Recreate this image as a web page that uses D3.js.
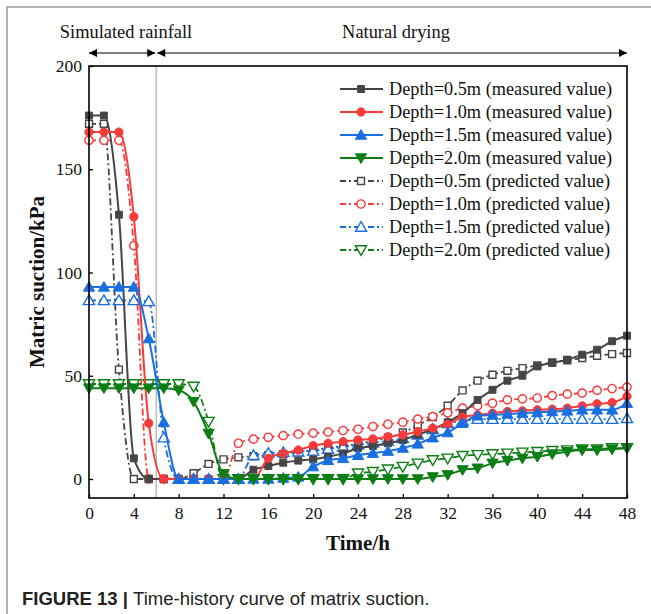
<!DOCTYPE html>
<html>
<head>
<meta charset="utf-8">
<script src="https://cdn.jsdelivr.net/npm/d3@7"></script>
<style>
  body { margin: 0; background: #fff; }
  svg { display: block; }
</style>
</head>
<body>
<div id="chart"></div>
<script>
let width = 651
let height = 614

// time axis (h), one reading every 80 min
let times = [0, 1.33, 2.67, 4, 5.33, 6.67, 8, 9.33, 10.67, 12, 13.33, 14.67, 16, 17.33, 18.67,
  20, 21.33, 22.67, 24, 25.33, 26.67, 28, 29.33, 30.67, 32, 33.33, 34.67, 36, 37.33, 38.67,
  40, 41.33, 42.67, 44, 45.33, 46.67, 48]

let measured05 = [176, 176, 128, 10, 0, 0, 0, 0, 0, 0, 0, 4.5, 6.3, 7.9, 8.9, 9.5, 10.8, 12.4, 14.9,
  16, 17.3, 18.9, 21.4, 24.1, 27.5, 31.9, 38.3, 43.2, 47.6, 50, 54.5, 56.2, 57.8, 60.2, 62.6, 66.7, 69.4]
let measured10 = [168, 168, 168, 127, 27, 0, 0, 0, 0, 0, 0, 0, 10, 12.4, 14, 16.2, 17.3, 18.1, 18.9,
  19.4, 20.5, 21.4, 23, 24.6, 26.5, 30, 31, 31.9, 32.7, 33, 33.5, 33.8, 34.3, 35.4, 36.4, 37, 40]
let measured15 = [93, 93, 93, 93, 68, 27.5, 0, 0, 0, 0, 0, 0, 0, 0.5, 1, 6, 9, 10, 11.5,
  12.5, 13.5, 15, 17, 20, 22.5, 27, 30.6, 31, 31.5, 31.9, 32.2, 32.7, 33, 33.5, 33.5, 33.5, 36.7]
let measured20 = [44, 44, 44, 44, 44, 44, 43, 37.5, 22, 2.5, 0, 0, 0, 0, 0, 0, 0, 0, 0,
  0, 0, 0, 0, 1, 2, 4.4, 5.2, 7.6, 8.9, 10, 10.8, 12.1, 13.2, 14, 14, 14.4, 14.9]

let predicted05 = [172, 172, 53, 0, 0, 0, 0, 2.8, 7.3, 9.5, 10.5, 11, 11.5, 12, 13, 14, 15, 16, 17,
  18.5, 20, 22.5, 26, 30, 35.5, 42.9, 47.6, 50.5, 52.4, 53.7, 55, 56.5, 57.5, 58.6, 59.7, 60.5, 61]
let predicted10 = [164, 164, 164, 113, 0, 0, 0, 0, 0, 0, 17.3, 19.3, 20.2, 21, 21.7, 22.2, 22.7, 23.5, 24.1,
  25.4, 26.5, 27.5, 29, 30.2, 32, 34.3, 35.4, 36.7, 38.3, 38.8, 39.2, 40.4, 41.1, 41.6, 42.9, 43.8, 44.5]
let predicted15 = [86.5, 86.5, 86.5, 86.5, 86, 20, 0, 0, 0, 0, 0, 11.5, 12.5, 12.9, 13.2, 13.6, 14.5, 15.5, 16.5,
  17.5, 18.5, 19.7, 21.4, 24.1, 27, 28, 29, 29, 29, 29, 29, 29, 29, 29, 29, 29, 29.4]
let predicted20 = [46, 46, 46, 46, 46, 46, 46, 44.8, 27.8, 0, 0, 0, 0, 0, 0, 0, 0, 0, 2.8,
  3.5, 4.7, 6, 7.6, 9.2, 10, 11.3, 11.7, 12.1, 12.4, 12.9, 13.2, 13.7, 14, 14.4, 14.5, 15, 15]

let xTicks = [0, 4, 8, 12, 16, 20, 24, 28, 32, 36, 40, 44, 48]
let yTicks = [0, 50, 100, 150, 200]

let colors = { d05: '#454545', d10: '#f73a3a', d15: '#1a6fdf', d20: '#0c7f14' }

let series = [
  { name: 'Depth=0.5m (measured value)', values: measured05, color: colors.d05, symbol: 'square', filled: true },
  { name: 'Depth=1.0m (measured value)', values: measured10, color: colors.d10, symbol: 'circle', filled: true },
  { name: 'Depth=1.5m (measured value)', values: measured15, color: colors.d15, symbol: 'up', filled: true },
  { name: 'Depth=2.0m (measured value)', values: measured20, color: colors.d20, symbol: 'down', filled: true },
  { name: 'Depth=0.5m (predicted value)', values: predicted05, color: colors.d05, symbol: 'square', filled: false },
  { name: 'Depth=1.0m (predicted value)', values: predicted10, color: colors.d10, symbol: 'circle', filled: false },
  { name: 'Depth=1.5m (predicted value)', values: predicted15, color: colors.d15, symbol: 'up', filled: false },
  { name: 'Depth=2.0m (predicted value)', values: predicted20, color: colors.d20, symbol: 'down', filled: false }
]

let plot = { left: 89, right: 627, top: 66, bottom: 498 }

let xPositionScale = d3.scaleLinear().domain([0, 48]).range([plot.left, plot.right])
let yPositionScale = d3.scaleLinear().domain([0, 200]).range([479, plot.top])

let svg = d3.select('#chart')
  .append('svg')
  .attr('width', width)
  .attr('height', height)

// outer figure frame
svg.append('path')
  .attr('d', `M7,${height} V7 H${width}`)
  .attr('fill', 'none')
  .attr('stroke', '#9a9a9a')
  .attr('stroke-width', 1.5)

let serif = '"Liberation Serif", "Times New Roman", serif'

// phase annotations
svg.append('text')
  .text('Simulated rainfall')
  .attr('x', 126)
  .attr('y', 38)
  .attr('text-anchor', 'middle')
  .attr('font-family', serif)
  .attr('font-size', 18.4)
  .attr('fill', '#111')

svg.append('text')
  .text('Natural drying')
  .attr('x', 396)
  .attr('y', 38)
  .attr('text-anchor', 'middle')
  .attr('font-family', serif)
  .attr('font-size', 18.4)
  .attr('fill', '#111')

let defs = svg.append('defs')
defs.append('marker')
  .attr('id', 'arrow')
  .attr('viewBox', '0 0 10 10')
  .attr('refX', 10)
  .attr('refY', 5)
  .attr('markerWidth', 11)
  .attr('markerHeight', 8)
  .attr('markerUnits', 'userSpaceOnUse')
  .attr('orient', 'auto-start-reverse')
  .append('path')
  .attr('d', 'M0,0 L10,5 L0,10 Z')
  .attr('fill', '#000')

let arrowY = 53
let rainEnd = xPositionScale(6)
;[[plot.left, rainEnd - 1], [rainEnd + 1, plot.right]].forEach(([a, b]) => {
  svg.append('line')
    .attr('x1', a)
    .attr('x2', b)
    .attr('y1', arrowY)
    .attr('y2', arrowY)
    .attr('stroke', '#000')
    .attr('stroke-width', 1.2)
    .attr('marker-start', 'url(#arrow)')
    .attr('marker-end', 'url(#arrow)')
})

// divider between rainfall and drying
svg.append('line')
  .attr('x1', rainEnd)
  .attr('x2', rainEnd)
  .attr('y1', plot.top)
  .attr('y2', plot.bottom)
  .attr('stroke', '#bdbdbd')
  .attr('stroke-width', 1.5)

// axes
let xAxis = d3.axisBottom(xPositionScale)
  .tickValues(xTicks)
  .tickSizeInner(-4)
  .tickSizeOuter(0)
  .tickPadding(9)

let xg = svg.append('g')
  .attr('transform', `translate(0,${plot.bottom})`)
  .call(xAxis)

let yAxis = d3.axisLeft(yPositionScale)
  .tickValues(yTicks)
  .tickSizeInner(-4)
  .tickSizeOuter(0)
  .tickPadding(7)

let yg = svg.append('g')
  .attr('transform', `translate(${plot.left},0)`)
  .call(yAxis)

;[xg, yg].forEach(g => {
  g.select('.domain').remove()
  g.selectAll('.tick line').attr('stroke', '#000').attr('stroke-width', 1.3)
  g.selectAll('.tick text')
    .attr('font-family', serif)
    .attr('font-size', 17.5)
    .attr('fill', '#111')
})

// lines and markers
let line = d3.line()
  .x((d, i) => xPositionScale(times[i]))
  .y(d => yPositionScale(d))
  .curve(d3.curveMonotoneX)

function symbolPath(kind) {
  if (kind === 'square') return d3.symbol().type(d3.symbolSquare).size(48)()
  if (kind === 'circle') return d3.symbol().type(d3.symbolCircle).size(54)()
  return d3.symbol().type(d3.symbolTriangle).size(54)()
}

function drawMarker(g, s, px, py) {
  g.append('path')
    .attr('d', symbolPath(s.symbol))
    .attr('transform', `translate(${px},${py})` + (s.symbol === 'down' ? ' rotate(180)' : '') +
      (s.symbol === 'up' || s.symbol === 'down' ? ' translate(0,1)' : ''))
    .attr('fill', s.filled ? s.color : '#fff')
    .attr('stroke', s.color)
    .attr('stroke-width', s.filled ? 1 : 1.4)
}

let order = [4, 5, 6, 7, 0, 1, 2, 3]
let plotArea = svg.append('g')

order.forEach(k => {
  let s = series[k]
  let g = plotArea.append('g')
  g.append('path')
    .datum(s.values)
    .attr('d', line)
    .attr('fill', 'none')
    .attr('stroke', s.color)
    .attr('stroke-width', s.filled ? 2 : 1.8)
    .attr('stroke-dasharray', s.filled ? null : '7,3,2,3')
  s.values.forEach((v, i) => {
    drawMarker(g, s, xPositionScale(times[i]), yPositionScale(v))
  })
})

// plot frame
svg.append('rect')
  .attr('x', plot.left)
  .attr('y', plot.top)
  .attr('width', plot.right - plot.left)
  .attr('height', plot.bottom - plot.top)
  .attr('fill', 'none')
  .attr('stroke', '#000')
  .attr('stroke-width', 1.6)

// legend
let legend = svg.append('g')
series.forEach((s, i) => {
  let ly = 89 + i * 23
  let row = legend.append('g')
  row.append('line')
    .attr('x1', 340)
    .attr('x2', 383)
    .attr('y1', ly)
    .attr('y2', ly)
    .attr('stroke', s.color)
    .attr('stroke-width', s.filled ? 2 : 1.8)
    .attr('stroke-dasharray', s.filled ? null : '6,3,2,3')
  drawMarker(row, s, 361, ly)
  row.append('text')
    .text(s.name)
    .attr('x', 389)
    .attr('y', ly + 6)
    .attr('font-family', serif)
    .attr('font-size', 18.3)
    .attr('fill', '#111')
})

// axis titles
svg.append('text')
  .text('Time/h')
  .attr('x', xPositionScale(24))
  .attr('y', 550)
  .attr('text-anchor', 'middle')
  .attr('font-family', serif)
  .attr('font-size', 21)
  .attr('font-weight', 'bold')
  .attr('fill', '#111')

svg.append('text')
  .text('Matric suction/kPa')
  .attr('transform', `translate(44,282) rotate(-90)`)
  .attr('text-anchor', 'middle')
  .attr('font-family', serif)
  .attr('font-size', 21)
  .attr('font-weight', 'bold')
  .attr('fill', '#111')

// caption
let caption = svg.append('text')
  .attr('x', 22)
  .attr('y', 605)
  .attr('font-family', '"Liberation Sans", Arial, sans-serif')
  .attr('font-size', 18.5)
  .attr('fill', '#222')
caption.append('tspan').text('FIGURE 13 | ').attr('font-weight', 'bold')
caption.append('tspan').text('Time-history curve of matrix suction.')
</script>
</body>
</html>
